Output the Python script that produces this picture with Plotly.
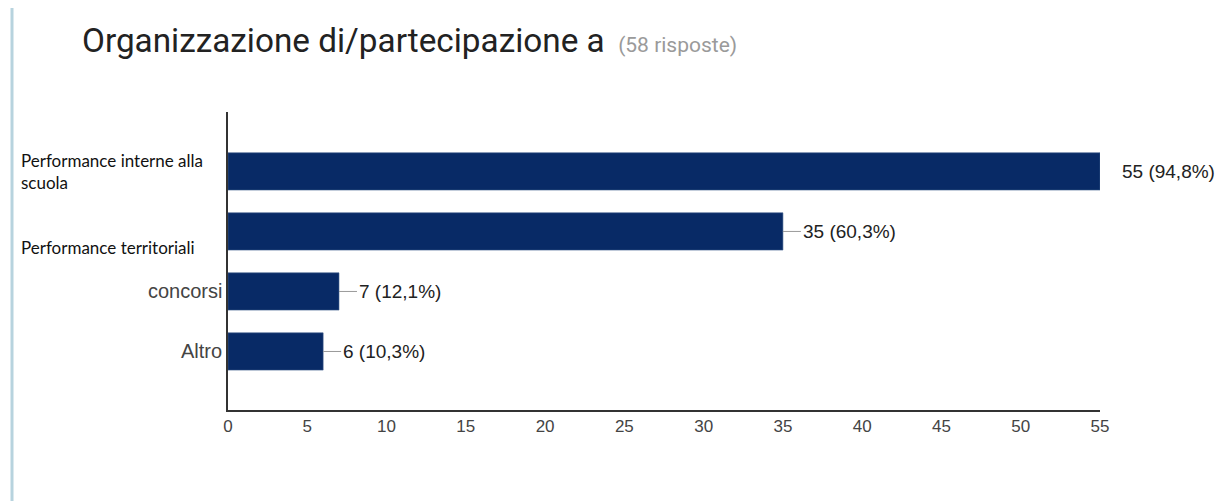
import plotly.graph_objects as go

categories = ["Performance interne alla<br>scuola", "Performance territoriali", "concorsi", "Altro"]
counts = [55, 35, 7, 6]
total = 58
value_labels = ["55 (94,8%)", "35 (60,3%)", "7 (12,1%)", "6 (10,3%)"]
x_ticks = [0, 5, 10, 15, 20, 25, 30, 35, 40, 45, 50, 55]

bar_color = "#082a66"
pos = list(range(len(categories)))

fig = go.Figure()
fig.add_trace(go.Bar(
    x=counts, y=pos, orientation="h", width=0.62,
    marker=dict(color=bar_color, line=dict(color="#3a5a8a", width=0.6)),
    hoverinfo="skip", showlegend=False,
))

annotations = []
shapes = []
for i, (c, lab) in enumerate(zip(counts, value_labels)):
    inside_axis = c < max(x_ticks)
    line_len = 18 if inside_axis else 3
    gap = 0 if inside_axis else 17
    shapes.append(dict(type="line", xref="x", yref="y", xsizemode="pixel", xanchor=c,
                       x0=0, x1=line_len, y0=i, y1=i, line=dict(color="#999999", width=1)))
    annotations.append(dict(x=c, y=i, xref="x", yref="y", xanchor="left", yanchor="middle",
                            xshift=line_len + gap, text=lab, showarrow=False,
                            font=dict(family="Liberation Sans, Arial", size=19, color="#222222")))

# category labels
for i, cat in enumerate(categories):
    if cat.startswith("Performance"):
        yshift = 0 if "<br>" in cat else -16
        annotations.append(dict(x=0, y=i, xref="paper", yref="y", xanchor="left", yanchor="middle",
                                align="left", xshift=-209, yshift=yshift, text=cat, showarrow=False,
                                font=dict(family="Lato", size=17, color="#111111")))
    else:
        annotations.append(dict(x=0, y=i, xref="paper", yref="y", xanchor="right", yanchor="middle",
                                xshift=-4, text=cat, showarrow=False,
                                font=dict(family="Liberation Sans, Arial", size=20, color="#444444")))

# title
annotations.append(dict(x=0, y=1, xref="paper", yref="paper", xanchor="left", yanchor="middle",
                        xshift=-148, yshift=72, showarrow=False,
                        text="Organizzazione di/partecipazione a <span style='font-size:21px;color:#9a9a9a'> (58 risposte)</span>",
                        font=dict(family="Roboto", size=33.3, color="#222222")))

# left decorative border
shapes.append(dict(type="line", xref="paper", yref="paper", x0=-0.2477, x1=-0.2477, y0=-0.35, y1=1.45,
                   line=dict(color="#b7d3de", width=3)))

fig.update_layout(
    width=1223, height=501,
    margin=dict(l=220, r=131, t=104, b=99),
    paper_bgcolor="white", plot_bgcolor="white",
    annotations=annotations, shapes=shapes,
    xaxis=dict(range=[0, 55], tickvals=x_ticks, showgrid=False, zeroline=False,
               showline=True, linecolor="#333333", linewidth=1.5,
               tickfont=dict(family="Liberation Sans, Arial", size=17, color="#444444"),
               ticks="", fixedrange=True),
    yaxis=dict(range=[3.975, -0.99], showticklabels=False, showgrid=False, zeroline=False,
               showline=True, linecolor="#333333", linewidth=1.5, ticks="", fixedrange=True),
)

fig.write_html("out.html")
